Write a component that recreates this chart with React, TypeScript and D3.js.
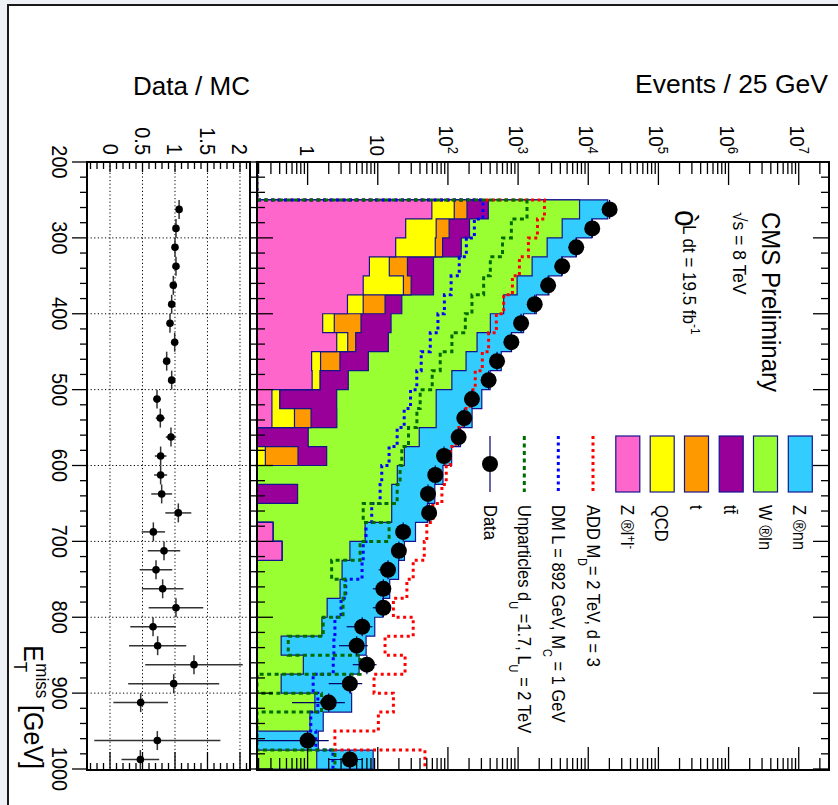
import React from "react";
import * as d3 from "d3";

// MET bins (low edges, 25 GeV wide)
const binLow = [250, 275, 300, 325, 350, 375, 400, 425, 450, 475, 500, 525, 550, 575, 600, 625, 650, 675, 700, 725, 750, 775, 800, 825, 850, 875, 900, 925, 950, 975];
const binWidth = 25;

// Background predictions (events / bin)
const zll = [59, 25, 18, 7.6, 6.2, 3.7, 1.64, 2.6, 1.14, 1.16, 0.31, 0.31, 0, 0, 0, 0, 0, 0.32, 0.43, 0, 0, 0, 0, 0, 0, 0, 0, 0, 0, 0];
const qcd = [64, 43, 48, 7.0, 17, 2.5, 0.76, 1.13, 0.39, 0.34, 0.09, 0.34, 0, 0.25, 0, 0, 0, 0, 0, 0, 0, 0, 0, 0, 0, 0, 0, 0, 0, 0];
const singleTop = [64, 36, 18, 11.9, 6.7, 6.5, 3.37, 1.12, 1.36, 0, 0, 0.47, 0, 0.48, 0, 0, 0, 0, 0, 0, 0, 0, 0, 0, 0, 0, 0, 0, 0, 0];
const ttbar = [189, 99, 71, 35.8, 32.4, 9.3, 9.7, 9.3, 4.45, 2.3, 2.2, 1.49, 1.02, 1.14, 0, 0.72, 0, 0, 0, 0, 0, 0, 0, 0, 0, 0, 0, 0, 0, 0];
const wlnu = [7140, 4050, 2441, 1523, 906, 601, 387, 246, 174, 110, 65.4, 65.4, 38, 22.1, 19, 15.1, 15.8, 6.28, 3.58, 3.1, 2.9, 1.9, 1.6, 0.42, 0.87, 0.42, 1.27, 1.08, 0.15, 1.35];
const znunu = [11434, 6977, 4144, 2602, 1783, 1196, 794, 546, 394, 286, 236, 153, 112, 89, 66, 49.2, 35.2, 27.9, 20, 16.7, 11.9, 9.9, 7.46, 6.4, 4.55, 3.66, 2.97, 0.59, 1.27, 7.25];

// Signal hypotheses
const addSignal = [2375, 1888, 1403, 1044, 829, 623, 490, 380, 309, 245, 208, 165, 131, 108, 94.6, 82, 61, 50, 46, 32, 26, 16.7, 32, 12.7, 24.5, 8.85, 16.7, 10.2, 2.45, 47];
const dmSignal = [316, 238, 183, 145, 111, 89, 72, 56, 41.6, 36, 29.3, 23.8, 18.9, 14.5, 11.4, 10.8, 8.2, 6.8, 6.2, 5.97, 3.5, 3.0, 2.45, 2.37, 2.32, 1.2, 1.4, 1.11, 1.31, 2.3];
const unpartSignal = [1340, 802, 600, 402, 323, 220, 177, 114, 77.6, 59.7, 40.2, 36.1, 27.4, 22, 20.8, 18.9, 6.2, 14.5, 5.6, 2.2, 3.4, 3.2, 1.67, 0.53, 5.6, 0.1, 1.58, 0.1, 0.1, 2.45];

// Observed data
const dataCounts = [20140, 11400, 6740, 4250, 2680, 1726, 1104, 802, 501, 380, 220, 171, 142, 88, 66, 52, 54, 23, 20, 14, 12, 12, 6, 5, 7, 4, 2, 0, 1, 4];
const dataErr = [142, 107, 82, 65, 52, 41.5, 33.2, 28.3, 22.4, 19.5, 14.8, 13.1, 11.9, 9.4, 8.1, 7.2, 7.3, 4.8, 4.5, 3.7, 3.5, 3.5, 2.4, 2.2, 2.6, 2.0, 1.4, 0, 1.0, 2.0];

// Data / MC ratio
const ratio = [1.063, 1.015, 1.0, 1.015, 0.974, 0.949, 0.923, 0.995, 0.872, 0.949, 0.723, 0.774, 0.938, 0.779, 0.779, 0.795, 1.051, 0.667, 0.831, 0.708, 0.81, 1.015, 0.662, 0.733, 1.292, 0.98, 0.472, null, 0.728, 0.467];
const ratioErr = [0.015, 0.015, 0.02, 0.02, 0.025, 0.03, 0.035, 0.04, 0.045, 0.055, 0.06, 0.07, 0.08, 0.09, 0.1, 0.16, 0.2, 0.18, 0.25, 0.25, 0.32, 0.42, 0.35, 0.44, 0.75, 0.7, 0.42, 0, 0.97, 0.29];

// Axis labelling
const metTickLabels = [200, 300, 400, 500, 600, 700, 800, 900, 1000];
const ratioTickLabels = [0, 0.5, 1, 1.5, 2];
const eventDecades = [0, 1, 2, 3, 4, 5, 6, 7];

const stackKeys = ["zll", "qcd", "top", "ttbar", "wlnu", "znunu"];
const stackColors: Record<string, string> = {
  zll: "#ff66cc",
  qcd: "#ffff00",
  top: "#ff9900",
  ttbar: "#990099",
  wlnu: "#99ff33",
  znunu: "#33ccff",
};

const FONT = "'Liberation Sans', Arial, Helvetica, sans-serif";
const NAVY = "#14148c";
const K = 1.1;

function RText(props: { x: number; y: number; anchor?: string; size: number; children: React.ReactNode; fill?: string }) {
  const { x, y, anchor = "start", size, children, fill = "#000" } = props;
  return (
    <text
      transform={`translate(${x},${y}) rotate(90) scale(1,${K})`}
      textAnchor={anchor}
      fontSize={size}
      fontFamily={FONT}
      fill={fill}
    >
      {children}
    </text>
  );
}

export default function App() {
  const yMet = d3.scaleLinear().domain([200, 1000]).range([162, 769]);
  const xEv = d3.scaleLog().domain([0.19, 2.7e7]).range([257, 829]);
  const xRat = d3.scaleLinear().domain([-0.354, 2.154]).range([87, 250]);
  const evMin = xEv.domain()[0];
  const ex = (v: number) => xEv(Math.max(v, evMin));
  const xL = ex(0);

  const rows = binLow.map((lo, i) => ({
    lo,
    zll: zll[i],
    qcd: qcd[i],
    top: singleTop[i],
    ttbar: ttbar[i],
    wlnu: wlnu[i],
    znunu: znunu[i],
  }));
  const stacked = d3.stack<any>().keys(stackKeys)(rows);

  const stepPts = (vals: number[]): [number, number][] => {
    const pts: [number, number][] = [
      [xL, yMet(200)],
      [xL, yMet(binLow[0])],
    ];
    vals.forEach((v, i) => {
      pts.push([ex(v), yMet(binLow[i])]);
      pts.push([ex(v), yMet(binLow[i] + binWidth)]);
    });
    return pts;
  };
  const line = d3.line<[number, number]>();
  const area = d3
    .area<[number, number]>()
    .x0(() => xL)
    .x1((p) => p[0])
    .y((p) => p[1]);

  // tick definitions
  const logTicks: { v: number; major: boolean }[] = [];
  for (let e = -1; e <= 7; e++) {
    for (let m = 1; m <= 9; m++) {
      const v = m * Math.pow(10, e);
      if (v >= 0.19 && v <= 2.7e7) logTicks.push({ v, major: m === 1 });
    }
  }
  const metTicks = d3.range(200, 1001, 20).map((v) => ({ v, major: v % 100 === 0 }));
  const ratTicks = d3
    .range(-3, 22)
    .map((k) => ({ v: k / 10, major: k % 5 === 0 }));

  const top = 162;
  const bottom = 770;
  const mainL = 257;
  const mainR = 829;
  const ratL = 87;
  const ratR = 250;

  const legendBoxes = [
    { key: "znunu", cx: 800.3 },
    { key: "wlnu", cx: 765.5 },
    { key: "ttbar", cx: 731.2 },
    { key: "top", cx: 696.5 },
    { key: "qcd", cx: 662.2 },
    { key: "zll", cx: 627.8 },
  ];
  const legY0 = 436;
  const legY1 = 492;
  const legTextY = 505;
  const legSize = 16.5;

  const signals = [
    { vals: addSignal, color: "#ff0000", dash: "3 3.5" },
    { vals: dmSignal, color: "#0000ff", dash: "3 3.5" },
    { vals: unpartSignal, color: "#006b00", dash: "4 3.5" },
  ];

  return (
    <svg
      width={838}
      height={805}
      style={{ position: "absolute", left: 0, top: 0, display: "block" }}
      fontFamily={FONT}
    >
      <defs>
        <clipPath id="mainClip">
          <rect x={mainL} y={top} width={mainR - mainL} height={bottom - top} />
        </clipPath>
        <clipPath id="ratClip">
          <rect x={ratL} y={top} width={ratR - ratL} height={bottom - top} />
        </clipPath>
      </defs>
      <rect x={0} y={0} width={838} height={805} fill="#eef1f5" />
      <rect x={8} y={5} width={1000} height={1000} fill="#ffffff" stroke="#1a1a1a" strokeWidth={2} />

      {/* stacked backgrounds */}
      <g clipPath="url(#mainClip)">
        {stacked
          .slice()
          .reverse()
          .map((s) => (
            <path
              key={s.key}
              d={area(stepPts(s.map((d) => d[1]))) || ""}
              fill={stackColors[s.key]}
              stroke={NAVY}
              strokeWidth={1.2}
            />
          ))}
        {signals.map((s, i) => (
          <path
            key={i}
            d={line(stepPts(s.vals)) || ""}
            fill="none"
            stroke={s.color}
            strokeWidth={3}
            strokeDasharray={s.dash}
          />
        ))}
        {/* data */}
        {dataCounts.map((c, i) => {
          if (c <= 0) return null;
          const yc = yMet(binLow[i] + binWidth / 2);
          return (
            <g key={i}>
              <line x1={ex(c - dataErr[i])} x2={ex(c + dataErr[i])} y1={yc} y2={yc} stroke="#000066" strokeWidth={1.2} />
              <line x1={ex(c)} x2={ex(c)} y1={yMet(binLow[i])} y2={yMet(binLow[i] + binWidth)} stroke="#000066" strokeWidth={1.2} />
              <circle cx={ex(c)} cy={yc} r={8} fill="#000" />
            </g>
          );
        })}
      </g>

      {/* main frame ticks */}
      {logTicks.map((t, i) => {
        const x = xEv(t.v);
        const len = t.major ? 23 : 12;
        return (
          <g key={i} stroke="#000" strokeWidth={1.3}>
            <line x1={x} x2={x} y1={top} y2={top + len} />
            <line x1={x} x2={x} y1={bottom} y2={bottom - len} />
          </g>
        );
      })}
      {metTicks.map((t, i) => {
        const y = yMet(t.v);
        const len = t.major ? 16 : 8;
        return (
          <g key={i} stroke="#000" strokeWidth={1.3}>
            <line x1={mainL} x2={mainL + len} y1={y} y2={y} />
            <line x1={mainR} x2={mainR - len} y1={y} y2={y} />
          </g>
        );
      })}
      <rect x={mainL} y={top} width={mainR - mainL} height={bottom - top} fill="none" stroke="#000" strokeWidth={2} />

      {/* ratio panel */}
      <g stroke="#000" strokeWidth={1} strokeDasharray="1.2 2.4">
        {ratioTickLabels.map((v) => (
          <line key={v} x1={xRat(v)} x2={xRat(v)} y1={top} y2={bottom} />
        ))}
        {metTickLabels.slice(1, -1).map((v) => (
          <line key={v} x1={ratL} x2={ratR} y1={yMet(v)} y2={yMet(v)} />
        ))}
      </g>
      <g clipPath="url(#ratClip)">
        {ratio.map((r, i) => {
          if (r === null) return null;
          const yc = yMet(binLow[i] + binWidth / 2);
          return (
            <g key={i}>
              <line x1={xRat(r - ratioErr[i])} x2={xRat(r + ratioErr[i])} y1={yc} y2={yc} stroke="#333" strokeWidth={1.5} />
              <line x1={xRat(r)} x2={xRat(r)} y1={yMet(binLow[i])} y2={yMet(binLow[i] + binWidth)} stroke="#333" strokeWidth={1.5} />
              <circle cx={xRat(r)} cy={yc} r={3.8} fill="#000" />
            </g>
          );
        })}
      </g>
      {ratTicks.map((t, i) => {
        const x = xRat(t.v);
        return (
          <g key={i} stroke="#000" strokeWidth={1.3}>
            <line x1={x} x2={x} y1={top} y2={top + (t.major ? 10 : 7)} />
            <line x1={x} x2={x} y1={bottom} y2={bottom - (t.major ? 18 : 7)} />
          </g>
        );
      })}
      {metTicks.map((t, i) => {
        const y = yMet(t.v);
        return (
          <g key={i} stroke="#000" strokeWidth={1.3}>
            <line x1={ratL} x2={ratL - (t.major ? 15 : 7)} y1={y} y2={y} />
            <line x1={ratR} x2={ratR + 6} y1={y} y2={y} />
          </g>
        );
      })}
      <rect x={ratL} y={top} width={ratR - ratL} height={bottom - top} fill="none" stroke="#000" strokeWidth={2} />

      {/* tick labels */}
      {metTickLabels.map((v) => (
        <RText key={v} x={52} y={yMet(v)} anchor="middle" size={20}>
          {v}
        </RText>
      ))}
      {ratioTickLabels.map((v) => (
        <RText key={v} x={xRat(v) - 7.5} y={155} anchor="end" size={20}>
          {v}
        </RText>
      ))}
      {eventDecades.map((e) => {
        const x = xEv(Math.pow(10, e));
        if (e === 0) return <RText key={e} x={x - 7.5} y={156} anchor="end" size={19}>1</RText>;
        if (e === 1) return <RText key={e} x={x - 7.5} y={156} anchor="end" size={19}>10</RText>;
        return (
          <RText key={e} x={x - 9} y={154} anchor="end" size={19}>
            <tspan>10</tspan>
            <tspan dy={-8} fontSize={13}>{e}</tspan>
          </RText>
        );
      })}

      {/* axis titles */}
      <text x={828} y={93} textAnchor="end" fontSize={26.5} fontFamily={FONT}>Events / 25 GeV</text>
      <text x={250} y={95} textAnchor="end" fontSize={26} fontFamily={FONT}>Data / MC</text>
      <RText x={24} y={769} anchor="end" size={25}>
        <tspan>E</tspan>
        <tspan dy={9} fontSize={17}>T</tspan>
        <tspan dy={-20} dx={-9} fontSize={17}>miss</tspan>
        <tspan dy={11}> [GeV]</tspan>
      </RText>

      {/* header text */}
      <RText x={762} y={212} size={24}>CMS Preliminary</RText>
      <RText x={733} y={212} size={17.5}>√s = 8 TeV</RText>
      <RText x={675} y={210} size={30}>ò</RText>
      <RText x={683} y={225} size={17}>
        <tspan>L dt = 19.5 fb</tspan>
        <tspan dy={-7} fontSize={12}>-1</tspan>
      </RText>

      {/* legend */}
      {legendBoxes.map((b) => (
        <rect
          key={b.key}
          x={b.cx - 12}
          y={legY0}
          width={24}
          height={legY1 - legY0}
          fill={stackColors[b.key]}
          stroke={NAVY}
          strokeWidth={1.2}
        />
      ))}
      <RText x={800.3 - 7} y={legTextY} size={legSize}>Z ®nn</RText>
      <RText x={765.5 - 7} y={legTextY} size={legSize}>W ®ln</RText>
      <RText x={731.2 - 7} y={legTextY} size={legSize}>tt̄</RText>
      <RText x={696.5 - 7} y={legTextY} size={legSize}>t</RText>
      <RText x={662.2 - 7} y={legTextY} size={legSize}>QCD</RText>
      <RText x={627.8 - 7} y={legTextY} size={legSize}>
        <tspan>Z ®l</tspan>
        <tspan dy={-6} fontSize={11}>+</tspan>
        <tspan dy={6}>l</tspan>
        <tspan dy={-6} fontSize={11}>-</tspan>
      </RText>

      {signals.map((s, i) => {
        const cx = [593, 558.3, 524.3][i];
        return (
          <line key={i} x1={cx} x2={cx} y1={legY0} y2={legY1} stroke={s.color} strokeWidth={3} strokeDasharray={s.dash} />
        );
      })}
      <RText x={593 - 6} y={legTextY} size={legSize}>
        <tspan>ADD M</tspan>
        <tspan dy={8} fontSize={11}>D</tspan>
        <tspan dy={-8}>= 2 TeV, d = 3</tspan>
      </RText>
      <RText x={558.3 - 6} y={legTextY} size={legSize}>
        <tspan>DM L = 892 GeV, M</tspan>
        <tspan dy={8} fontSize={11}>C</tspan>
        <tspan dy={-8}> = 1 GeV</tspan>
      </RText>
      <RText x={524.3 - 6} y={legTextY} size={legSize}>
        <tspan>Unparticles d</tspan>
        <tspan dy={8} fontSize={11}>U</tspan>
        <tspan dy={-8}> =1.7, L</tspan>
        <tspan dy={8} fontSize={11}>U</tspan>
        <tspan dy={-8}> = 2 TeV</tspan>
      </RText>
      <line x1={490} x2={490} y1={legY0} y2={legY1} stroke="#000066" strokeWidth={1.2} />
      <circle cx={490} cy={(legY0 + legY1) / 2} r={8} fill="#000" />
      <RText x={490 - 6} y={legTextY} size={legSize}>Data</RText>
    </svg>
  );
}
